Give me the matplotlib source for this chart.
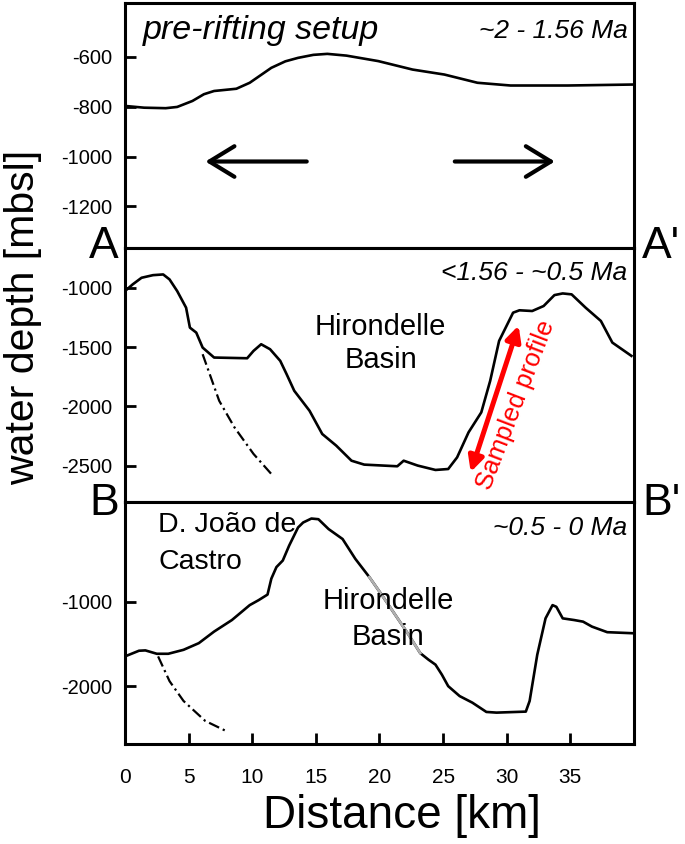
import matplotlib.pyplot as plt

plt.rcParams['font.family'] = ['Liberation Sans', 'DejaVu Sans']
plt.rcParams['axes.unicode_minus'] = False

# profile A-A' before rifting (distance km, depth m)
dist_pre = [0, 1.5, 3.2, 4.1, 5.3, 6.2, 7.0, 8.75, 9.8, 11.5, 12.6, 13.6, 14.8, 15.9, 17.4, 19.9, 22.6,
            25.1, 27.7, 30.3, 34.8, 40]
depth_pre = [-797, -804, -806, -801, -777, -750, -737, -728, -704, -644, -618, -604, -592, -588, -595,
             -617, -651, -671, -704, -715, -715, -711]

# profile <1.56 - ~0.5 Ma
dist_mid = [0, 0.6, 1.3, 2.2, 3.0, 3.5, 4.1, 4.8, 5.1, 5.6, 6.1, 7.0, 9.6, 10.1, 10.7, 11.4, 12.2, 12.7,
            13.3, 14.5, 15.5, 16.6, 17.8, 18.8, 21.4, 21.9, 23.0, 24.4, 25.4, 26.1, 27.0, 28.0, 28.7, 29.4,
            30.5, 31.0, 32.0, 32.9, 33.75, 34.4, 35.1, 36.2, 37.4, 38.3, 39.8]
depth_mid = [-1028, -972, -916, -894, -888, -930, -1028, -1168, -1336, -1378, -1504, -1588, -1594, -1532,
             -1476, -1518, -1616, -1728, -1868, -2036, -2232, -2330, -2457, -2490, -2504, -2457, -2498,
             -2535, -2527, -2429, -2218, -2050, -1784, -1448, -1210, -1190, -1196, -1154, -1062, -1048,
             -1056, -1168, -1280, -1462, -1574]
fault_mid_x = [6.1, 7.4, 8.6, 10.1, 11.5]
fault_mid_y = [-1560, -1952, -2176, -2400, -2569]

# profile ~0.5 - 0 Ma
dist_now = [0, 1.1, 1.6, 2.5, 3.4, 4.6, 5.8, 7.0, 8.4, 9.8, 10.5, 11.2, 11.5, 11.9, 12.4, 12.9, 13.6, 14.0,
            14.65, 15.2, 16.0, 17.1, 18.1, 19.2, 20.2, 21.25, 22.3, 23.2, 23.85, 24.4, 24.9, 25.4, 26.3,
            27.3, 28.4, 29.2, 31.5, 31.8, 32.4, 33.05, 33.6, 33.9, 34.4, 35.3, 36.0, 36.7, 37.9, 40]
depth_now = [-1647, -1580, -1576, -1616, -1616, -1569, -1490, -1353, -1216, -1039, -980, -914, -725, -588,
             -510, -333, -118, -59, -12, -20, -137, -255, -490, -706, -922, -1157, -1392, -1608, -1686,
             -1745, -1863, -2000, -2118, -2196, -2306, -2314, -2302, -2176, -1627, -1196, -1039, -1059,
             -1196, -1216, -1235, -1294, -1360, -1373]
fault_now_x = [2.6, 3.5, 4.6, 6.3, 7.9]
fault_now_y = [-1647, -1941, -2176, -2412, -2529]

fig = plt.figure(figsize=(6.85, 8.44), dpi=100)
L, W = 0.1825, 0.743
ax1 = fig.add_axes([L, 0.7062, W, 0.2902])
ax2 = fig.add_axes([L, 0.4052, W, 0.301])
ax3 = fig.add_axes([L, 0.1185, W, 0.2867])

for ax in (ax1, ax2, ax3):
    ax.set_xlim(0, 40)
    for s in ax.spines.values():
        s.set_linewidth(2.2)
    ax.tick_params(direction='in', length=8, width=2, labelsize=14.5, pad=9)

dashdot = (0, (5, 1.8, 1, 1.8))
arrow_blk = dict(arrowstyle='->,head_length=1.8,head_width=1.1', lw=3, color='black',
                 capstyle='round', joinstyle='round')

ax1.set_ylim(-1367, -384)
ax1.set_yticks([-600, -800, -1000, -1200])
ax1.set_xticks([])
ax1.plot(dist_pre, depth_pre, color='black', lw=1.9)
ax1.annotate('', xy=(6.1, -1020), xytext=(14.5, -1020), arrowprops=arrow_blk)
ax1.annotate('', xy=(34.0, -1020), xytext=(25.7, -1020), arrowprops=arrow_blk)
ax1.text(1.4, -495, 'pre-rifting setup', style='italic', fontsize=24.5, va='center')
ax1.text(39.5, -495, '~2 - 1.56 Ma', style='italic', fontsize=19, ha='right', va='center')

ax2.set_ylim(-2805, -665)
ax2.set_yticks([-1000, -1500, -2000, -2500])
ax2.set_xticks([])
ax2.plot(dist_mid, depth_mid, color='black', lw=1.9)
ax2.plot(fault_mid_x, fault_mid_y, color='black', lw=1.6, ls=dashdot)
ax2.text(39.5, -880, '<1.56 - ~0.5 Ma', style='italic', fontsize=19, ha='right', va='center')
ax2.text(20.1, -1470, 'Hirondelle\nBasin', fontsize=21, ha='center', va='center', linespacing=1.25)
ax2.annotate('', xy=(27.1, -2575), xytext=(31.0, -1296),
             arrowprops=dict(arrowstyle='<|-|>,head_length=0.9,head_width=0.45', lw=3.6, color='red'))
ax2.text(30.7, -1986, 'Sampled profile', color='red', fontsize=18.5, rotation=69,
         ha='center', va='center')

ax3.set_ylim(-2686, 184)
ax3.set_yticks([-1000, -2000])
ax3.set_xticks([0, 5, 10, 15, 20, 25, 30, 35])
ax3.tick_params(axis='x', labelsize=15, pad=17)
ax3.plot(dist_now, depth_now, color='black', lw=1.9)
ax3.plot(dist_now[23:28], depth_now[23:28], color='#b0b0b0', lw=1.9)
ax3.plot(fault_now_x, fault_now_y, color='black', lw=1.6, ls=dashdot)
ax3.text(2.6, -89, 'D. João de', fontsize=20.5, va='center')
ax3.text(2.6, -528, 'Castro', fontsize=20.5, va='center')
ax3.text(39.5, -130, '~0.5 - 0 Ma', style='italic', fontsize=19, ha='right', va='center')
ax3.text(20.7, -1200, 'Hirondelle\nBasin', fontsize=21, ha='center', va='center', linespacing=1.35)
ax3.set_xlabel('Distance [km]', fontsize=33, labelpad=5)
ax3.xaxis.set_label_coords(0.544, -0.205)

fig.text(0.033, 0.624, 'water depth [mbsl]', fontsize=29.5, rotation=90, ha='center', va='center')
fig.text(0.152, 0.708, 'A', fontsize=32, ha='center', va='center')
fig.text(0.965, 0.708, "A'", fontsize=32, ha='center', va='center')
fig.text(0.152, 0.404, 'B', fontsize=32, ha='center', va='center')
fig.text(0.965, 0.404, "B'", fontsize=32, ha='center', va='center')

fig.savefig('out.png', dpi=100)
